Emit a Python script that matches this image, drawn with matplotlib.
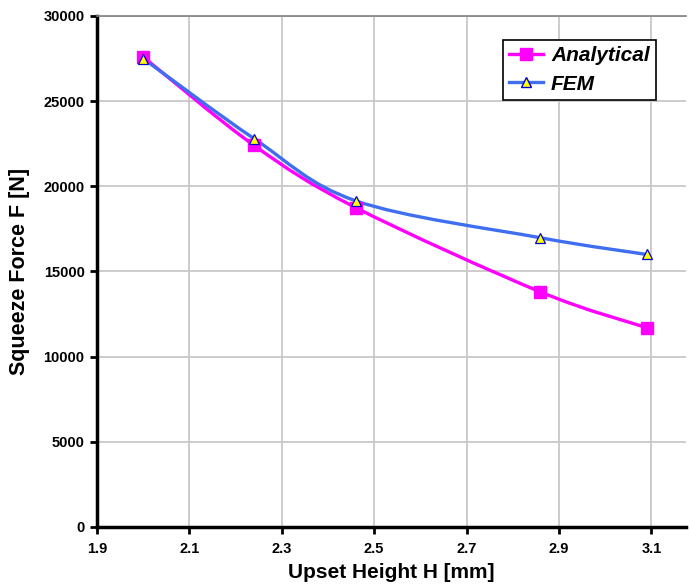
import numpy as np
import matplotlib
matplotlib.use("Agg")
import matplotlib.pyplot as plt
from matplotlib.path import Path
from matplotlib.patches import PathPatch
from matplotlib.lines import Line2D

plt.rcParams['font.family'] = ['Liberation Sans Narrow', 'Liberation Sans', 'DejaVu Sans']

# data
height = [2.0, 2.24, 2.46, 2.86, 3.09]
analytical = [27600, 22400, 18750, 13800, 11700]
fem = [27500, 22800, 19150, 16980, 16000]


def smooth_path(x, y):
    # excel-like smoothed line: catmull-rom turned into cubic beziers
    pts = np.column_stack([x, y]).astype(float)
    verts = [pts[0]]
    codes = [Path.MOVETO]
    n = len(pts)
    for i in range(n - 1):
        p0 = pts[i - 1] if i > 0 else pts[i]
        p1 = pts[i]
        p2 = pts[i + 1]
        p3 = pts[i + 2] if i + 2 < n else pts[i + 1]
        c1 = p1 + (p2 - p0) / 6
        c2 = p2 - (p3 - p1) / 6
        verts += [c1, c2, p2]
        codes += [Path.CURVE4] * 3
    return Path(verts, codes)


fig = plt.figure(figsize=(6.9, 5.86), dpi=100)
ax = fig.add_axes([0.1406, 0.1007, 0.8536, 0.872])

mag = '#FF00FF'
blue = '#3F6FF0'

ax.add_patch(PathPatch(smooth_path(height, analytical), fc='none', ec=mag, lw=2.4, zorder=3))
ax.add_patch(PathPatch(smooth_path(height, fem), fc='none', ec=blue, lw=2.4, zorder=4))
ax.plot(height, analytical, ls='none', marker='s', ms=8, color=mag, mec=mag, zorder=5)
ax.plot(height, fem, ls='none', marker='^', ms=7, mfc='#FFFF00', mec='#0000CC', mew=0.9, zorder=6)

ax.set_xlim(1.9, 3.175)
ax.set_ylim(0, 30000)
ax.set_xticks([1.9, 2.1, 2.3, 2.5, 2.7, 2.9, 3.1])
ax.set_yticks(np.arange(0, 30001, 5000))
ax.grid(True, color='#C8C8C8', lw=1.3)
ax.set_axisbelow(True)

for s in ['left', 'bottom']:
    ax.spines[s].set_linewidth(2.5)
    ax.spines[s].set_color('black')
ax.spines['top'].set_color('#808080')
ax.spines['top'].set_linewidth(1.2)
ax.spines['right'].set_visible(False)

ax.tick_params(direction='out', length=5, width=2, labelsize=10.5, pad=4)
for lab in ax.get_xticklabels() + ax.get_yticklabels():
    lab.set_fontweight('bold')
ax.tick_params(axis='x', pad=6)

ax.set_xlabel('Upset Height H [mm]', fontsize=15, fontweight='bold', labelpad=5)
ax.set_ylabel('Squeeze Force F [N]', fontsize=15.5, fontweight='bold', labelpad=10)

handles = [
    Line2D([], [], color=mag, lw=2.4, marker='s', ms=8),
    Line2D([], [], color=blue, lw=2.4, marker='^', ms=7, mfc='#FFFF00', mec='#0000CC'),
]
leg = ax.legend(handles, ['Analytical', 'FEM'], loc='upper right',
                bbox_to_anchor=(0.949, 0.953), borderaxespad=0, fancybox=False,
                edgecolor='black', framealpha=1,
                prop={'size': 15, 'weight': 'bold', 'style': 'italic',
                      'family': ['Liberation Sans', 'DejaVu Sans']},
                handlelength=1.6, borderpad=0.3, labelspacing=0.45, handletextpad=0.4)
leg.get_frame().set_linewidth(1.2)

fig.savefig('out.png', dpi=100)
